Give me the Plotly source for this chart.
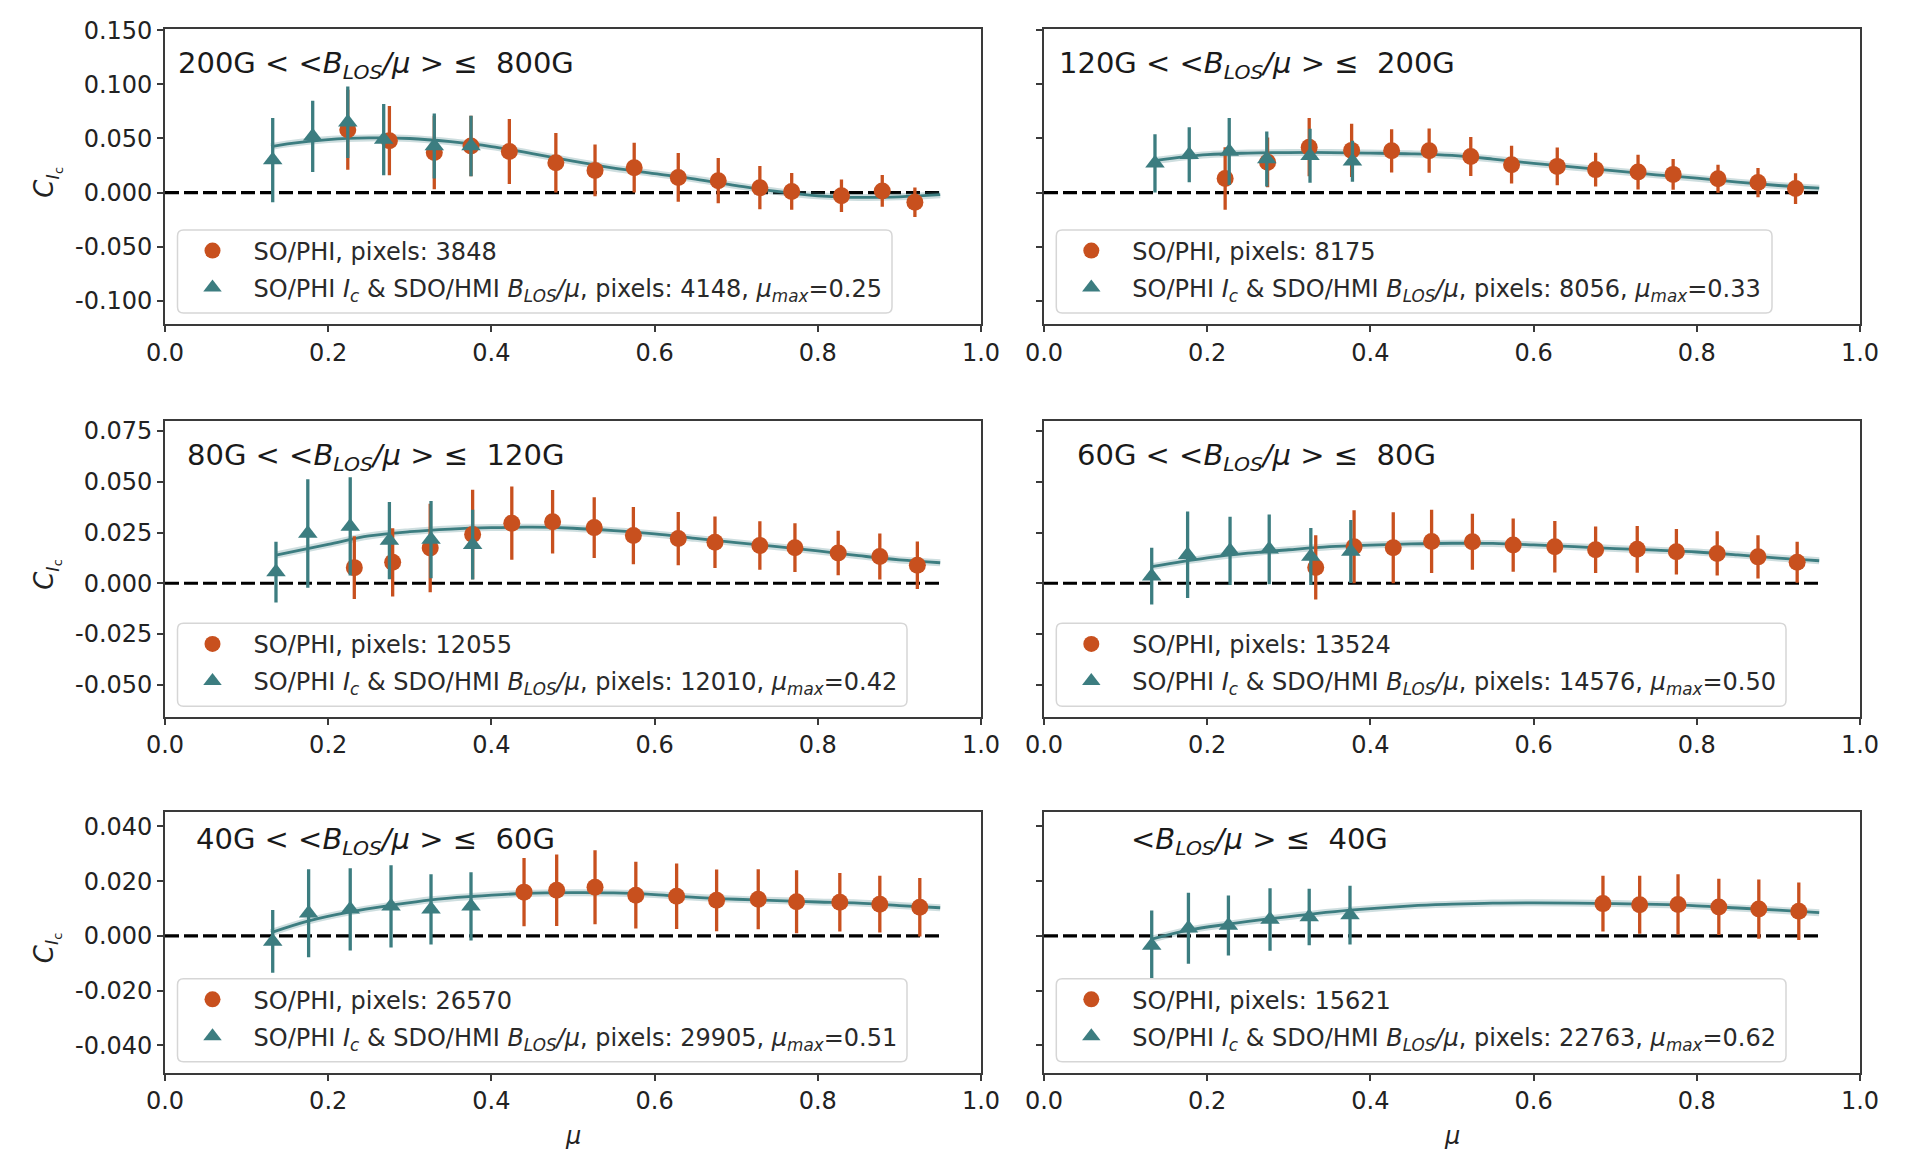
import plotly.graph_objects as go

# ---------------------------------------------------------------------------
# Data: contrast C_Ic versus mu for six <B_LOS/mu> bins
# "phi"  : SO/PHI only (circles)
# "hmi"  : SO/PHI Ic & SDO/HMI B_LOS/mu (triangles)
# "fit"  : fitted curve
# ---------------------------------------------------------------------------

# 200G < <B/mu> <= 800G
p1_phi_mu = [0.224, 0.275, 0.330, 0.375, 0.422, 0.479, 0.527, 0.575, 0.629, 0.678, 0.729, 0.768, 0.829, 0.879, 0.919]
p1_phi_c = [0.058, 0.048, 0.037, 0.043, 0.038, 0.0275, 0.0205, 0.023, 0.014, 0.011, 0.0045, 0.001, -0.003, 0.0015, -0.009]
p1_phi_err = [0.037, 0.032, 0.034, 0.028, 0.030, 0.0275, 0.024, 0.023, 0.0225, 0.021, 0.020, 0.017, 0.015, 0.0147, 0.0137]
p1_hmi_mu = [0.132, 0.181, 0.224, 0.268, 0.330, 0.375]
p1_hmi_c = [0.030, 0.052, 0.065, 0.049, 0.043, 0.043]
p1_hmi_err = [0.039, 0.033, 0.033, 0.033, 0.030, 0.028]
p1_fit_mu = [0.13, 0.15, 0.20, 0.25, 0.30, 0.35, 0.40, 0.45, 0.50, 0.55, 0.60, 0.65, 0.70, 0.75, 0.80, 0.85, 0.90, 0.95]
p1_fit_c = [0.0425, 0.045, 0.049, 0.0505, 0.050, 0.047, 0.0425, 0.036, 0.029, 0.0225, 0.0175, 0.0125, 0.0065, 0.001, -0.003, -0.0045, -0.004, -0.002]

# 120G < <B/mu> <= 200G
p2_phi_mu = [0.222, 0.274, 0.325, 0.377, 0.426, 0.472, 0.523, 0.573, 0.629, 0.676, 0.728, 0.771, 0.826, 0.875, 0.921]
p2_phi_c = [0.013, 0.028, 0.042, 0.039, 0.0386, 0.0387, 0.0333, 0.0258, 0.0242, 0.0212, 0.0189, 0.0168, 0.0127, 0.0092, 0.0037]
p2_phi_err = [0.029, 0.023, 0.027, 0.0247, 0.020, 0.0205, 0.018, 0.0174, 0.0174, 0.0157, 0.016, 0.0142, 0.013, 0.0135, 0.0142]
p2_hmi_mu = [0.136, 0.178, 0.227, 0.273, 0.326, 0.378]
p2_hmi_c = [0.027, 0.035, 0.038, 0.031, 0.034, 0.029]
p2_hmi_err = [0.027, 0.0255, 0.031, 0.0255, 0.025, 0.019]
p2_fit_mu = [0.136, 0.20, 0.25, 0.30, 0.35, 0.40, 0.45, 0.50, 0.55, 0.60, 0.65, 0.70, 0.75, 0.80, 0.85, 0.90, 0.95]
p2_fit_c = [0.0296, 0.035, 0.0365, 0.037, 0.037, 0.0365, 0.0358, 0.0343, 0.031, 0.027, 0.0235, 0.020, 0.0164, 0.0133, 0.0096, 0.0065, 0.004]

# 80G < <B/mu> <= 120G
p3_phi_mu = [0.232, 0.279, 0.325, 0.377, 0.425, 0.475, 0.526, 0.574, 0.629, 0.674, 0.729, 0.772, 0.825, 0.876, 0.922]
p3_phi_c = [0.0077, 0.0103, 0.0174, 0.024, 0.0296, 0.0303, 0.0274, 0.0235, 0.022, 0.0202, 0.0186, 0.0175, 0.0149, 0.0132, 0.0089]
p3_phi_err = [0.0154, 0.0168, 0.0218, 0.022, 0.018, 0.0156, 0.015, 0.0141, 0.0131, 0.0127, 0.0119, 0.012, 0.011, 0.0113, 0.0117]
p3_hmi_mu = [0.136, 0.175, 0.227, 0.275, 0.326, 0.377]
p3_hmi_c = [0.0055, 0.0245, 0.028, 0.021, 0.0215, 0.019]
p3_hmi_err = [0.015, 0.0267, 0.0242, 0.019, 0.019, 0.0172]
p3_fit_mu = [0.136, 0.20, 0.25, 0.30, 0.35, 0.40, 0.45, 0.50, 0.55, 0.60, 0.65, 0.70, 0.75, 0.80, 0.85, 0.90, 0.95]
p3_fit_c = [0.0139, 0.0192, 0.0233, 0.0254, 0.0267, 0.0274, 0.0276, 0.0271, 0.0259, 0.0243, 0.0221, 0.020, 0.018, 0.0159, 0.0136, 0.0115, 0.0101]

# 60G < <B/mu> <= 80G
p4_phi_mu = [0.333, 0.380, 0.428, 0.475, 0.525, 0.575, 0.626, 0.676, 0.727, 0.775, 0.825, 0.875, 0.923]
p4_phi_c = [0.0078, 0.018, 0.0175, 0.0206, 0.0204, 0.0188, 0.018, 0.0165, 0.0167, 0.0155, 0.0147, 0.013, 0.0103]
p4_phi_err = [0.0158, 0.018, 0.0175, 0.0156, 0.0138, 0.0131, 0.0127, 0.0115, 0.0115, 0.0112, 0.0109, 0.0107, 0.0101]
p4_hmi_mu = [0.132, 0.176, 0.228, 0.276, 0.327, 0.376]
p4_hmi_c = [0.0035, 0.014, 0.016, 0.0167, 0.0132, 0.0156]
p4_hmi_err = [0.014, 0.0213, 0.0168, 0.0172, 0.014, 0.0155]
p4_fit_mu = [0.132, 0.20, 0.25, 0.30, 0.35, 0.40, 0.45, 0.50, 0.55, 0.60, 0.65, 0.70, 0.75, 0.80, 0.85, 0.90, 0.95]
p4_fit_c = [0.0082, 0.0125, 0.0148, 0.0165, 0.018, 0.0188, 0.0194, 0.0197, 0.0196, 0.0189, 0.018, 0.0171, 0.0163, 0.0154, 0.014, 0.0124, 0.0111]

# 40G < <B/mu> <= 60G
p5_phi_mu = [0.440, 0.480, 0.527, 0.577, 0.627, 0.676, 0.727, 0.774, 0.827, 0.876, 0.925]
p5_phi_c = [0.016, 0.0167, 0.0178, 0.0149, 0.0145, 0.013, 0.0134, 0.0125, 0.0123, 0.0116, 0.0105]
p5_phi_err = [0.0125, 0.0131, 0.0135, 0.0122, 0.012, 0.0113, 0.011, 0.0115, 0.0107, 0.0104, 0.0107]
p5_hmi_mu = [0.132, 0.176, 0.227, 0.277, 0.326, 0.375]
p5_hmi_c = [-0.002, 0.0083, 0.0097, 0.0108, 0.0097, 0.0108]
p5_hmi_err = [0.0115, 0.0161, 0.015, 0.015, 0.0128, 0.0125]
p5_fit_mu = [0.13, 0.176, 0.227, 0.277, 0.326, 0.375, 0.44, 0.50, 0.55, 0.60, 0.65, 0.70, 0.75, 0.80, 0.85, 0.90, 0.95]
p5_fit_c = [0.0012, 0.0055, 0.0088, 0.0112, 0.0132, 0.0144, 0.0155, 0.0158, 0.0157, 0.0151, 0.0141, 0.0134, 0.0129, 0.0124, 0.012, 0.0111, 0.0103]

# <B/mu> <= 40G
p6_phi_mu = [0.685, 0.730, 0.777, 0.827, 0.876, 0.925]
p6_phi_c = [0.0118, 0.0114, 0.0115, 0.0106, 0.0098, 0.009]
p6_phi_err = [0.0102, 0.0106, 0.011, 0.0103, 0.0108, 0.0105]
p6_hmi_mu = [0.132, 0.177, 0.226, 0.277, 0.325, 0.375]
p6_hmi_c = [-0.0035, 0.0028, 0.0038, 0.006, 0.0069, 0.0076]
p6_hmi_err = [0.0128, 0.013, 0.011, 0.0114, 0.0103, 0.0107]
p6_fit_mu = [0.132, 0.177, 0.226, 0.277, 0.325, 0.375, 0.45, 0.50, 0.55, 0.60, 0.65, 0.70, 0.75, 0.80, 0.85, 0.90, 0.95]
p6_fit_c = [-0.0012, 0.0021, 0.0043, 0.0063, 0.0079, 0.0094, 0.011, 0.0116, 0.012, 0.0121, 0.012, 0.0118, 0.0115, 0.011, 0.0102, 0.0094, 0.0085]

bin_titles = [
    "200G &lt; &lt;<i>B</i><sub><i>LOS</i></sub><i>/μ</i> &gt; ≤  800G",
    "120G &lt; &lt;<i>B</i><sub><i>LOS</i></sub><i>/μ</i> &gt; ≤  200G",
    "80G &lt; &lt;<i>B</i><sub><i>LOS</i></sub><i>/μ</i> &gt; ≤  120G",
    "60G &lt; &lt;<i>B</i><sub><i>LOS</i></sub><i>/μ</i> &gt; ≤  80G",
    "40G &lt; &lt;<i>B</i><sub><i>LOS</i></sub><i>/μ</i> &gt; ≤  60G",
    "&lt;<i>B</i><sub><i>LOS</i></sub><i>/μ</i> &gt; ≤  40G",
]
phi_pixels = [3848, 8175, 12055, 13524, 26570, 15621]
hmi_pixels = [4148, 8056, 12010, 14576, 29905, 22763]
mu_max = ["0.25", "0.33", "0.42", "0.50", "0.51", "0.62"]

zero_line_mu = [0.0, 0.95]
zero_line_c = [0.0, 0.0]

x_tick_vals = [0.0, 0.2, 0.4, 0.6, 0.8, 1.0]
x_tick_text = ["0.0", "0.2", "0.4", "0.6", "0.8", "1.0"]
row_y_ranges = [[-0.1216, 0.151], [-0.0657, 0.0799], [-0.050, 0.0454]]
row_y_tick_vals = [
    [-0.100, -0.050, 0.0, 0.050, 0.100, 0.150],
    [-0.050, -0.025, 0.0, 0.025, 0.050, 0.075],
    [-0.040, -0.020, 0.0, 0.020, 0.040],
]
row_y_tick_text = [
    ["-0.100", "-0.050", "0.000", "0.050", "0.100", "0.150"],
    ["-0.050", "-0.025", "0.000", "0.025", "0.050", "0.075"],
    ["-0.040", "-0.020", "0.000", "0.020", "0.040"],
]

panels = [
    (p1_phi_mu, p1_phi_c, p1_phi_err, p1_hmi_mu, p1_hmi_c, p1_hmi_err, p1_fit_mu, p1_fit_c),
    (p2_phi_mu, p2_phi_c, p2_phi_err, p2_hmi_mu, p2_hmi_c, p2_hmi_err, p2_fit_mu, p2_fit_c),
    (p3_phi_mu, p3_phi_c, p3_phi_err, p3_hmi_mu, p3_hmi_c, p3_hmi_err, p3_fit_mu, p3_fit_c),
    (p4_phi_mu, p4_phi_c, p4_phi_err, p4_hmi_mu, p4_hmi_c, p4_hmi_err, p4_fit_mu, p4_fit_c),
    (p5_phi_mu, p5_phi_c, p5_phi_err, p5_hmi_mu, p5_hmi_c, p5_hmi_err, p5_fit_mu, p5_fit_c),
    (p6_phi_mu, p6_phi_c, p6_phi_err, p6_hmi_mu, p6_hmi_c, p6_hmi_err, p6_fit_mu, p6_fit_c),
]

# ---------------------------------------------------------------------------
# Styling / layout geometry (pixels on a 1915 x 1156 canvas)
# ---------------------------------------------------------------------------
W, H = 1915, 1156
FONT = "DejaVu Sans"
ORANGE = "#c8501e"
TEAL = "#3c7d80"
TEXT = "#222222"
FRAME = "#3a3a3a"

col_px = [(165.0, 981.0), (1044.0, 1860.0)]
row_px = [(29.3, 324.0), (421.0, 716.7), (811.7, 1072.7)]

# per-panel placement of the bin label (axes fraction)
title_pos = [(0.014, 0.879), (0.016, 0.879), (0.025, 0.879), (0.038, 0.879), (0.035, 0.888), (0.104, 0.888)]
# legend boxes: left, right, top (px)
legend_box = [(177.5, 892.0, 230.0), (1056.3, 1772.0, 230.0),
              (177.5, 907.0, 623.3), (1056.3, 1786.0, 623.3),
              (177.5, 907.0, 978.7), (1056.3, 1786.0, 978.7)]
LEGEND_BOX_H = 83.0
ROW1_OFF, ROW2_OFF = 21.0, 58.0
SYMBOL_OFF = 35.0


def px_x(v):
    return v / W


def px_y(v):
    return 1.0 - v / H


fig = go.Figure()
layout = dict(
    template="none",
    width=W, height=H, autosize=False,
    margin=dict(l=0, r=0, t=0, b=0, pad=0),
    paper_bgcolor="white", plot_bgcolor="white",
    font=dict(family=FONT, size=24, color=TEXT),
    showlegend=True,
)
annotations = []
shapes = []

for k, (phi_mu, phi_c, phi_err, hmi_mu, hmi_c, hmi_err, fit_mu, fit_c) in enumerate(panels):
    row, col = divmod(k, 2)
    n = k + 1
    xa = "x" if n == 1 else f"x{n}"
    ya = "y" if n == 1 else f"y{n}"
    leg_a = "legend" if 2 * k + 1 == 1 else f"legend{2 * k + 1}"
    leg_b = f"legend{2 * k + 2}"

    # zero reference
    fig.add_trace(go.Scatter(x=zero_line_mu, y=zero_line_c, mode="lines", xaxis=xa, yaxis=ya,
                             line=dict(color="black", width=3.2, dash="14px,5px"),
                             showlegend=False, hoverinfo="skip"))
    # fitted curve (soft halo + core line)
    fig.add_trace(go.Scatter(x=fit_mu, y=fit_c, mode="lines", xaxis=xa, yaxis=ya,
                             line=dict(color="rgba(60,125,128,0.25)", width=7, shape="spline"),
                             showlegend=False, hoverinfo="skip"))
    fig.add_trace(go.Scatter(x=fit_mu, y=fit_c, mode="lines", xaxis=xa, yaxis=ya,
                             line=dict(color=TEAL, width=2.8, shape="spline"),
                             showlegend=False, hoverinfo="skip"))
    # SO/PHI points
    fig.add_trace(go.Scatter(
        x=phi_mu, y=phi_c, mode="markers", xaxis=xa, yaxis=ya,
        marker=dict(symbol="circle", size=17, color=ORANGE, line=dict(width=0)),
        error_y=dict(type="data", array=phi_err, visible=True, thickness=3.3, width=0, color=ORANGE),
        name=f"SO/PHI, pixels: {phi_pixels[k]}", legend=leg_a))
    # SO/PHI Ic & SDO/HMI points
    fig.add_trace(go.Scatter(
        x=hmi_mu, y=hmi_c, mode="markers", xaxis=xa, yaxis=ya,
        marker=dict(symbol="triangle-up", size=17, color=TEAL, line=dict(width=0)),
        error_y=dict(type="data", array=hmi_err, visible=True, thickness=3.3, width=0, color=TEAL),
        name=(f"SO/PHI <i>I</i><sub><i>c</i></sub> &amp; SDO/HMI <i>B</i><sub><i>LOS</i></sub><i>/μ</i>, "
              f"pixels: {hmi_pixels[k]}, <i>μ</i><sub><i>max</i></sub>={mu_max[k]}"),
        legend=leg_b))

    x0, x1 = col_px[col]
    y0, y1 = row_px[row]
    axis_common = dict(
        showline=True, mirror=True, linecolor=FRAME, linewidth=1.6,
        ticks="outside", ticklen=6, tickwidth=1.5, tickcolor=FRAME,
        showgrid=False, zeroline=False, automargin=False,
        tickfont=dict(family=FONT, size=24, color=TEXT),
    )
    layout["xaxis" if n == 1 else f"xaxis{n}"] = dict(
        axis_common, domain=[px_x(x0), px_x(x1)], anchor=ya, range=[0.0, 1.0],
        tickmode="array", tickvals=x_tick_vals, ticktext=x_tick_text,
    )
    layout["yaxis" if n == 1 else f"yaxis{n}"] = dict(
        axis_common, domain=[px_y(y1), px_y(y0)], anchor=xa, range=row_y_ranges[row],
        tickmode="array", tickvals=row_y_tick_vals[row], ticktext=row_y_tick_text[row],
        showticklabels=(col == 0),
    )

    # bin label
    tx, ty = title_pos[k]
    annotations.append(dict(text=bin_titles[k], xref=f"{xa} domain", yref=f"{ya} domain",
                            x=tx, y=ty, xanchor="left", yanchor="middle", showarrow=False,
                            font=dict(family=FONT, size=29, color="#1a1a1a")))

    # legend frame and its two entries
    bl, br, bt = legend_box[k]
    bb = bt + LEGEND_BOX_H
    r = 6.0
    path = (f"M {px_x(bl + r)},{px_y(bt)} L {px_x(br - r)},{px_y(bt)} "
            f"Q {px_x(br)},{px_y(bt)} {px_x(br)},{px_y(bt + r)} "
            f"L {px_x(br)},{px_y(bb - r)} Q {px_x(br)},{px_y(bb)} {px_x(br - r)},{px_y(bb)} "
            f"L {px_x(bl + r)},{px_y(bb)} Q {px_x(bl)},{px_y(bb)} {px_x(bl)},{px_y(bb - r)} "
            f"L {px_x(bl)},{px_y(bt + r)} Q {px_x(bl)},{px_y(bt)} {px_x(bl + r)},{px_y(bt)} Z")
    shapes.append(dict(type="path", path=path, xref="paper", yref="paper",
                       line=dict(color="#d6d6d6", width=1.5), fillcolor="white", layer="above"))
    sym_x = bl + SYMBOL_OFF
    for leg_name, off in ((leg_a, ROW1_OFF), (leg_b, ROW2_OFF)):
        layout[leg_name] = dict(
            x=px_x(sym_x - 41.0), y=px_y(bt + off), xanchor="left", yanchor="middle",
            xref="paper", yref="paper", bgcolor="rgba(0,0,0,0)", borderwidth=0,
            itemwidth=72, font=dict(family=FONT, size=24, color="#2a2a2a"),
        )

# y-axis labels for each row and mu labels under the bottom row
for row, (y0, y1) in enumerate(row_px):
    annotations.append(dict(text="<i>C</i><sub><i>I</i><sub>c</sub></sub>", xref="paper", yref="paper",
                            x=px_x(47), y=px_y((y0 + y1) / 2 + 6), xanchor="center", yanchor="middle",
                            textangle=-90, showarrow=False, font=dict(family=FONT, size=26, color=TEXT)))
for col, (x0, x1) in enumerate(col_px):
    annotations.append(dict(text="<i>μ</i>", xref="paper", yref="paper",
                            x=px_x((x0 + x1) / 2), y=px_y(1136), xanchor="center", yanchor="middle",
                            showarrow=False, font=dict(family=FONT, size=24, color=TEXT)))

layout["annotations"] = annotations
layout["shapes"] = shapes
fig.update_layout(**layout)

fig.write_html("out.html", post_script="document.body.style.margin='0';")
